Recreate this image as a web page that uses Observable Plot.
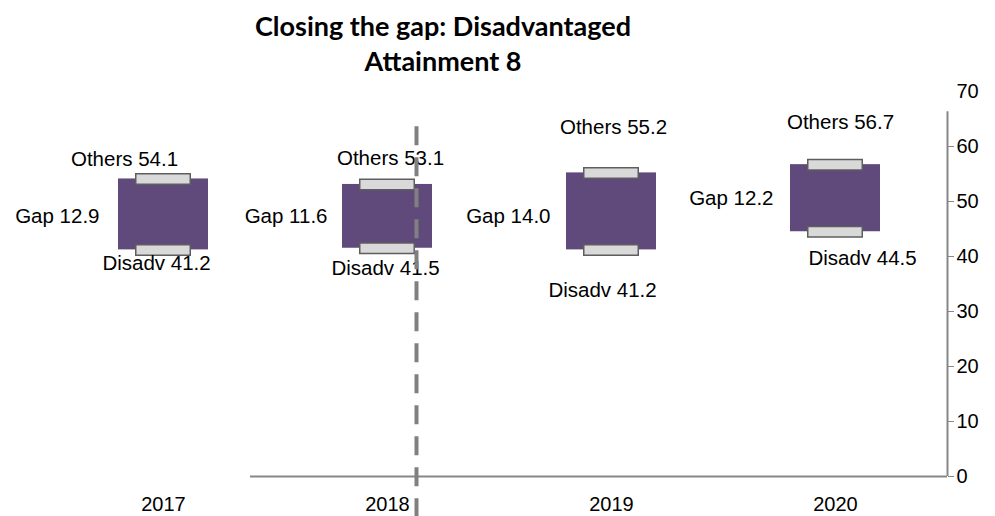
<!DOCTYPE html>
<html>
<head>
<meta charset="utf-8">
<script src="https://cdn.jsdelivr.net/npm/d3@7"></script>
<script src="https://cdn.jsdelivr.net/npm/@observablehq/plot@0.6"></script>
<style>
  html, body { margin: 0; padding: 0; background: #fff; }
  #wrap { position: relative; width: 995px; height: 516px; }
  #title { position: absolute; left: 193px; top: 8px; width: 500px; text-align: center;
           font-family: Lato, "Open Sans", sans-serif; font-weight: bold; font-size: 27px; line-height: 35px; color: #000; }
</style>
</head>
<body>
<div id="wrap">
  <div id="chart"></div>
  <div id="title">Closing the gap: Disadvantaged<br>Attainment 8</div>
</div>
<script>
// ---- data ----
const years = ["2017", "2018", "2019", "2020"];
const others = [54.1, 53.1, 55.2, 56.7];
const disadv = [41.2, 41.5, 41.2, 44.5];
const gap = [12.9, 11.6, 14.0, 12.2];
const yTicks = [0, 10, 20, 30, 40, 50, 60, 70];
const dividerYear = "2018";

// label nudges (pixels) reproducing the reference's label placement
const othersNudge = [[-39, -20], [3, -26], [2, -45], [5, -42]];
const disadvNudge = [[-7, 14], [-2, 20], [-9, 41], [27, 27]];
const gapNudge = [[-64, 2], [-60, 0], [-61, 5], [-62, 0]];

const rows = years.map((y, i) => ({
  year: y, others: others[i], disadv: disadv[i], gap: gap[i],
  mid: (others[i] + disadv[i]) / 2
}));

const font = "Liberation Sans, Arial, sans-serif";
const fsTick = 20;
const fsLabel = 20.5;

const labelMarks = [];
rows.forEach((r, i) => {
  labelMarks.push(Plot.text([r], {x: "year", y: "others", text: d => "Others " + d.others.toFixed(1),
    dx: othersNudge[i][0], dy: othersNudge[i][1], fontSize: fsLabel, fill: "#000"}));
  labelMarks.push(Plot.text([r], {x: "year", y: "disadv", text: d => "Disadv " + d.disadv.toFixed(1),
    dx: disadvNudge[i][0], dy: disadvNudge[i][1], fontSize: fsLabel, fill: "#000"}));
  labelMarks.push(Plot.text([r], {x: "year", y: "mid", text: d => "Gap " + d.gap.toFixed(1),
    dx: gapNudge[i][0], dy: gapNudge[i][1], textAnchor: "end", fontSize: fsLabel, fill: "#000"}));
});

const chart = Plot.plot({
  width: 995,
  height: 516,
  marginTop: 91,
  marginBottom: 40,
  marginLeft: 51,
  marginRight: 48,
  style: {fontFamily: font, background: "#fff", overflow: "visible"},
  x: {type: "band", domain: years, padding: 0, axis: null},
  y: {domain: [0, 70], axis: null},
  marks: [
    // x axis line
    Plot.ruleY([0], {stroke: "#878787", strokeWidth: 2, insetLeft: 199}),
    // y axis line (right edge of the frame)
    Plot.ruleX([years[years.length - 1]], {y1: 0, y2: 66.3, stroke: "#878787", strokeWidth: 2, dx: 112}),
    // y ticks and labels
    Plot.axisY({anchor: "right", ticks: yTicks.filter(t => t < 70), tickSize: 6, stroke: "#878787", text: null, label: null}),
    Plot.axisY({anchor: "right", ticks: yTicks, tickSize: 0, tickPadding: 9, fontSize: fsTick, fill: "#000", tickFormat: d => String(d), label: null}),
    // x labels
    Plot.axisX({anchor: "bottom", tickSize: 0, tickPadding: 20, fontSize: fsTick, fill: "#000", label: null}),
    // gap bars
    Plot.barY(rows, {x: "year", y1: "disadv", y2: "others", fill: "#5F4A7B", insetLeft: 67, insetRight: 67}),
    // caps
    Plot.tickY(rows, {x: "year", y: "others", stroke: "#5E5E5E", strokeWidth: 12, insetLeft: 84, insetRight: 84}),
    Plot.tickY(rows, {x: "year", y: "others", stroke: "#D9D9D9", strokeWidth: 9, insetLeft: 85.5, insetRight: 85.5}),
    Plot.tickY(rows, {x: "year", y: "disadv", stroke: "#5E5E5E", strokeWidth: 12, insetLeft: 84, insetRight: 84}),
    Plot.tickY(rows, {x: "year", y: "disadv", stroke: "#D9D9D9", strokeWidth: 9, insetLeft: 85.5, insetRight: 85.5}),
    ...labelMarks,
    // divider
    Plot.ruleX([dividerYear], {y1: -7.5, y2: 64, stroke: "#808080", strokeWidth: 4, strokeDasharray: "19,12", dx: 29})
  ]
});
document.getElementById("chart").appendChild(chart);
</script>
</body>
</html>
